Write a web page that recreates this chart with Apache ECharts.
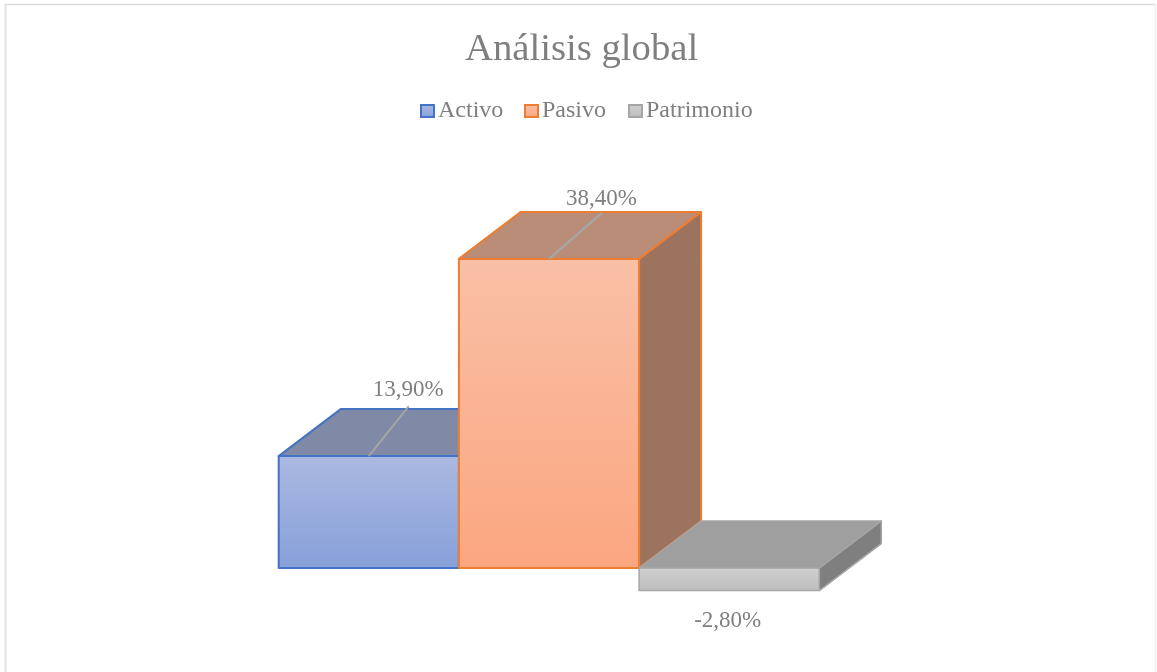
<!DOCTYPE html>
<html><head><meta charset="utf-8">
<style>html,body{margin:0;padding:0;background:#fff}#c{width:1157px;height:672px}</style>
<script src="https://cdn.jsdelivr.net/npm/echarts@6/dist/echarts.min.js"></script>
</head><body><div id="c"></div>
<script>
const titleText = 'Análisis global';
const categories = ['Análisis global'];
const seriesNames = ['Activo', 'Pasivo', 'Patrimonio'];
const activo = [13.9];
const pasivo = [38.4];
const patrimonio = [-2.8];
const valueLabels = ['13,90%', '38,40%', '-2,80%'];

const FONT = '"Liberation Serif","Times New Roman",serif';
const GREY = '#7f7f7f';
const DEPTH_X = 62, DEPTH_Y = 47;
const legendLefts = [415, 519, 623];
const grad = (a, b) => ({ type: 'linear', x: 0, y: 0, x2: 0, y2: 1, colorStops: [{ offset: 0, color: a }, { offset: 1, color: b }] });
const looks = [
  { front: grad('#abb9e1', '#87a0d9'), top: '#8089a6', side: '#6b7796', stroke: '#4472c4', label: [39.5, -66], leader: [40, -50] },
  { front: grad('#f9c0a6', '#fba680'), top: '#ba8d78', side: '#9b735f', stroke: '#ed7d31', label: [52.5, -60], leader: [53, -46] },
  { front: grad('#d0d0d0', '#bdbdbd'), top: '#9f9f9f', side: '#7f7f7f', stroke: '#a5a5a5', label: [-1.5, 30], leader: null }
];
const barWidth = 180.2;
const slotOffsets = [-1, 0, 1];

function renderer(i) {
  return function (params, api) {
    const base = api.coord([api.value(0), 0]);
    const tip = api.coord([api.value(0), api.value(1)]);
    const cx = base[0] + slotOffsets[i] * barWidth;
    const l = cx - barWidth / 2, r = cx + barWidth / 2;
    const yTop = Math.min(base[1], tip[1]), yBot = Math.max(base[1], tip[1]);
    const k = looks[i];
    const edge = { stroke: k.stroke, lineWidth: i === 2 ? 1.5 : 2, lineJoin: 'round' };
    const poly = (pts, fill) => ({ type: 'polygon', shape: { points: pts }, style: Object.assign({ fill: fill }, edge) });
    const kids = [
      poly([[r, yBot], [r + DEPTH_X, yBot - DEPTH_Y], [r + DEPTH_X, yTop - DEPTH_Y], [r, yTop]], k.side),
      poly([[l, yTop], [l + DEPTH_X, yTop - DEPTH_Y], [r + DEPTH_X, yTop - DEPTH_Y], [r, yTop]], k.top),
      poly([[l, yTop], [r, yTop], [r, yBot], [l, yBot]], k.front)
    ];
    if (k.leader) {
      kids.push({ type: 'line', shape: { x1: cx, y1: tip[1], x2: cx + k.leader[0], y2: tip[1] + k.leader[1] }, style: { stroke: '#a6a6a6', lineWidth: 2 } });
    }
    kids.push({ type: 'text', x: cx + k.label[0], y: tip[1] + k.label[1], style: { text: valueLabels[i], fill: GREY, font: '23px ' + FONT, align: 'center', verticalAlign: 'middle' } });
    return { type: 'group', children: kids };
  };
}

const values = [activo, pasivo, patrimonio];
const chart = echarts.init(document.getElementById('c'), null, { renderer: 'canvas' });
chart.setOption({
  animation: false,
  backgroundColor: '#fff',
  title: { text: titleText, left: 460, top: 25, textStyle: { fontFamily: FONT, fontSize: 38.7, fontWeight: 'normal', color: GREY } },
  legend: seriesNames.map((n, i) => ({
    top: 94, left: legendLefts[i], itemWidth: 13, itemHeight: 12, selectedMode: false,
    textStyle: { fontFamily: FONT, fontSize: 24, color: GREY, padding: [0, 0, 0, -1] },
    data: [{ name: n, icon: 'rect', itemStyle: { color: looks[i].front, borderColor: looks[i].stroke, borderWidth: 2 } }]
  })),
  grid: { left: 278.5, width: 541, top: 246, height: 362.25 },
  xAxis: { type: 'category', data: categories, show: false },
  yAxis: { type: 'value', min: -5, max: 40, show: false },
  series: seriesNames.map((n, i) => ({
    name: n, type: 'custom', z: 2 + i, coordinateSystem: 'cartesian2d',
    itemStyle: { color: looks[i].stroke },
    renderItem: renderer(i),
    clip: false,
    encode: { x: 0, y: 1 },
    data: categories.map((c, j) => [j, values[i][j]])
  })),
  graphic: [
    { type: 'line', z: -1, silent: true, shape: { x1: 5, y1: 4.5, x2: 1155, y2: 4.5 }, style: { stroke: '#dcdcdc', lineWidth: 1.5 } },
    { type: 'line', z: -1, silent: true, shape: { x1: 5.5, y1: 4, x2: 5.5, y2: 672 }, style: { stroke: '#e2e2e2', lineWidth: 2 } },
    { type: 'line', z: -1, silent: true, shape: { x1: 1155.5, y1: 4, x2: 1155.5, y2: 672 }, style: { stroke: '#f0f0f0', lineWidth: 1.5 } }
  ]
});
</script></body></html>
